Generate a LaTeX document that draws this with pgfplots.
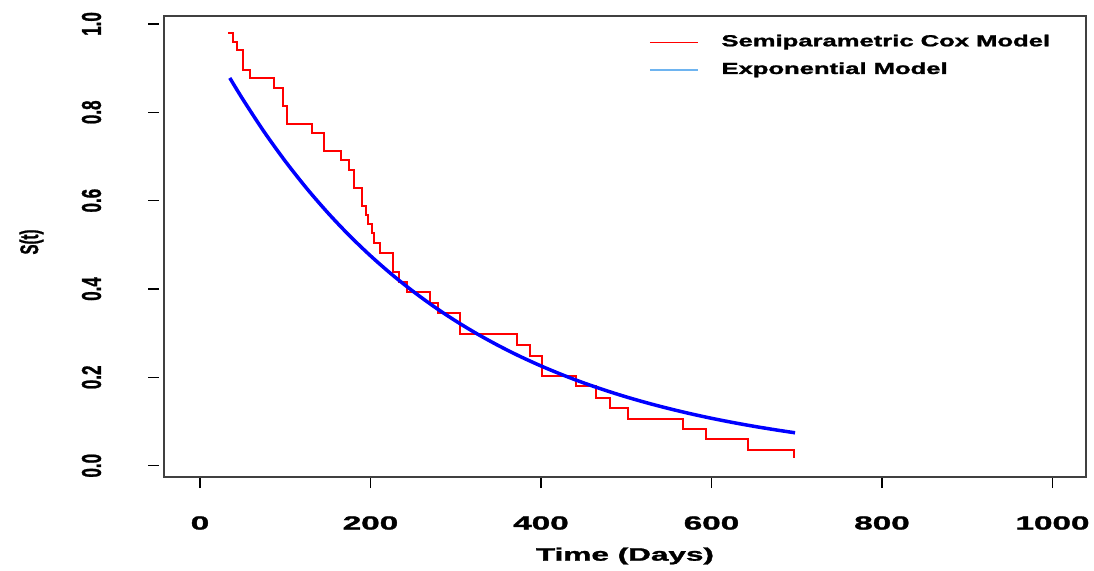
\documentclass[border=0pt]{standalone}
\usepackage{graphicx}
\usepackage{pgfplots}
\pgfplotsset{compat=1.18}
\usepackage{fontspec}
\setmainfont{Liberation Sans}[BoldFeatures={FakeBold=1.3}]
\newcommand{\xt}[1]{\scalebox{1.75}[1]{\fontsize{19bp}{19bp}\selectfont\bfseries #1}}
\newcommand{\yt}[1]{\rotatebox{90}{\scalebox{1}[1.6]{\fontsize{17bp}{17bp}\selectfont\bfseries #1}}}
\newcommand{\lt}[1]{\scalebox{1.6}[1]{\fontsize{16bp}{16bp}\selectfont\bfseries #1}}
\begin{document}
\begin{tikzpicture}
\path[use as bounding box] (-164bp,-94bp) rectangle (930bp,477bp);
\begin{axis}[
  at={(0,0)}, anchor=south west,
  scale only axis, width=922bp, height=461bp,
  xmin=-42.2, xmax=1039.3, ymin=-0.0256, ymax=1.018,
  xtick={0,200,400,600,800,1000},
  xticklabels={\xt{0},\xt{200},\xt{400},\xt{600},\xt{800},\xt{1000}},
  ytick={0,0.2,0.4,0.6,0.8,1.0},
  yticklabels={\yt{0.0},\yt{0.2},\yt{0.4},\yt{0.6},\yt{0.8},\yt{1.0}},
  xtick pos=left, ytick pos=left,
  tick align=outside, major tick length=11bp,
  tick style={line width=1.5bp, black},
  ytick style={xshift=-5bp},
  xticklabel style={anchor=center, yshift=-35bp},
  yticklabel style={anchor=center, xshift=-61.5bp},
  axis line style={line width=1.5bp, black!75},
  xlabel={\scalebox{1.75}[1]{\fontsize{18bp}{18bp}\selectfont\bfseries Time (Days)}},
  ylabel={\rotatebox{90}{\scalebox{1}[1.7]{\fontsize{15bp}{15bp}\selectfont\bfseries S(t)}}},
  every axis x label/.style={at={(axis description cs:0.5,0)}, anchor=center, yshift=-79bp},
  every axis y label/.style={at={(axis description cs:0,0.5)}, anchor=center, xshift=-132.5bp, yshift=4.5bp},
  legend image code/.code={\draw[#1] (0bp,0bp) -- (48bp,0bp);},
  legend cell align=left,
  legend style={draw=none, fill=none, inner sep=0pt, outer sep=0pt,
    at={(axis description cs:0,1)}, anchor=north west, xshift=485bp, yshift=-18.3bp,
    row sep=11.7bp, nodes={inner sep=0pt, text height=12bp, text depth=4bp},
    /tikz/every odd column/.append style={column sep=23bp}},
]
\addlegendimage{red, line width=1bp}
\addlegendentry{\lt{Semiparametric Cox Model}}
\addlegendimage{color={rgb,255:red,110;green,180;blue,240}, line width=1.5bp}
\addlegendentry{\lt{Exponential Model}}

\addplot[red, line width=2bp, const plot, forget plot] coordinates {
(33.2,0.980) (39.1,0.958) (43.8,0.940) (50.8,0.896) (58.7,0.877)
(86.8,0.856) (97,0.815) (102.5,0.774) (131.8,0.753) (145.8,0.7125)
(165.6,0.691) (175,0.669) (181,0.628) (189.6,0.588) (194.7,0.5675)
(197.5,0.547) (201.4,0.526) (204.1,0.5035) (211.1,0.482) (226.8,0.439)
(233.4,0.4166) (242.4,0.394) (269.8,0.3677) (279.6,0.345) (305,0.299)
(372.2,0.273) (387,0.248) (400.8,0.2035) (440.6,0.1795) (464.5,0.154)
(481,0.130) (502.4,0.106) (567,0.083) (593.2,0.060) (643.2,0.0355)
(696.8,0.0167)
};
\addplot[blue, line width=3.5bp, smooth, forget plot] coordinates {
(35,0.8778) (50,0.8303) (75,0.7565) (100,0.6894) (125,0.6282)
(150,0.5724) (175,0.5215) (200,0.4752) (225,0.4330) (250,0.3946)
(275,0.3595) (300,0.3276) (325,0.2985) (350,0.2720) (375,0.2478)
(400,0.2258) (425,0.2058) (450,0.1875) (475,0.1709) (500,0.1557)
(525,0.1419) (550,0.1293) (575,0.1178) (600,0.1073) (625,0.0978)
(650,0.0891) (675,0.0812) (698,0.0745)
};
\end{axis}
\end{tikzpicture}
\end{document}
